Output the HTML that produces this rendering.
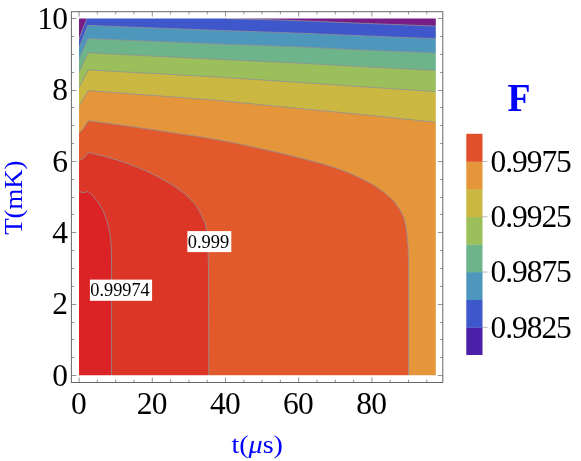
<!DOCTYPE html>
<html><head><meta charset="utf-8"><title>F</title>
<style>
html,body{margin:0;padding:0;background:#fff;}
body{width:581px;height:461px;overflow:hidden;position:relative;font-family:"Liberation Serif",serif;}
svg{position:absolute;left:0;top:0;will-change:transform;}
text{font-family:"Liberation Serif",serif;}
</style></head><body>
<svg width="581" height="461" viewBox="0 0 581 461">
<defs><clipPath id="cp"><rect x="78" y="18" width="359" height="358"/></clipPath></defs>
<g clip-path="url(#cp)">
<rect x="78.0" y="17.6" width="358.8" height="358.6" fill="#781c86"/>
<path fill="#3e58cb" d="M76.0,46.8 L79.0,39.0 L86.8,18.6 L88.1,15.6 L207.0,15.6 L227.0,18.6 L255.0,19.3 L282.6,20.1 L320.0,21.5 L360.0,23.2 L400.0,24.7 L435.8,26.1 L438.8,26.2 L438.8,378.2 L76.0,378.2 Z"/>
<path fill="#4d97bc" d="M76.0,55.7 L79.0,48.0 L87.8,25.4 L215.0,30.3 L300.0,33.2 L360.0,35.7 L435.7,38.7 L438.7,38.8 L438.8,378.2 L76.0,378.2 Z"/>
<path fill="#6db48a" d="M76.0,66.1 L79.0,59.2 L88.0,38.6 L215.0,43.9 L300.0,46.9 L360.0,49.9 L435.7,52.9 L438.7,53.0 L438.8,378.2 L76.0,378.2 Z"/>
<path fill="#9bbf5b" d="M76.0,78.9 L79.0,72.4 L88.1,52.8 L215.0,59.2 L300.0,63.2 L360.0,66.6 L435.7,70.4 L438.7,70.6 L438.8,378.2 L76.0,378.2 Z"/>
<path fill="#cbb843" d="M76.0,93.1 L79.0,87.4 L88.2,69.9 L215.0,76.9 L300.0,82.4 L360.0,86.6 L435.7,91.6 L438.7,91.8 L438.8,378.2 L76.0,378.2 Z"/>
<path fill="#e6963a" d="M76.0,111.3 L79.0,106.2 L88.2,90.6 L215.0,100.1 L300.0,108.6 L360.0,114.3 L435.7,122.3 L438.7,122.6 L438.8,378.2 L76.0,378.2 Z"/>
<path fill="#e25a2c" d="M76.0,136.4 L79.0,133.3 L82.9,129.3 L88.3,120.8 L104.0,122.8 L128.0,126.0 L152.0,129.6 L176.0,133.2 L200.0,136.8 L210.0,138.4 L234.1,142.8 L258.2,148.1 L282.3,153.6 L306.4,159.6 L330.0,166.1 L340.8,169.8 L351.7,174.1 L362.5,179.1 L373.4,184.9 L384.2,192.5 L392.9,200.1 L399.4,208.8 L403.8,217.5 L405.9,226.2 L407.2,235.9 L408.1,246.8 L408.5,260.0 L408.5,375.2 L408.5,378.2 L76.0,378.2 Z"/>
<path fill="#dc3626" d="M76.0,163.0 L79.0,161.0 L84.6,157.2 L88.4,152.5 L106.0,156.7 L119.1,160.6 L132.1,165.3 L145.1,170.5 L158.1,176.8 L171.1,184.1 L184.2,193.2 L194.6,203.6 L201.1,214.0 L205.0,223.1 L207.1,232.2 L208.1,254.4 L208.5,265.0 L208.7,375.2 L208.7,378.2 L76.0,378.2 Z"/>
<path fill="#db2224" d="M76.0,190.9 L79.0,191.6 L83.9,192.7 L87.8,191.4 L93.0,195.8 L98.2,202.3 L103.4,211.4 L107.3,221.8 L109.9,233.5 L111.3,246.6 L111.6,265.0 L111.6,375.2 L111.6,378.2 L76.0,378.2 Z"/>
<path stroke="#8f9097" stroke-width="0.8" fill="none" d="M76.0,46.8 L79.0,39.0 L86.8,18.6"/>
<path stroke="#8f9097" stroke-width="0.8" fill="none" d="M227.0,18.6 L255.0,19.3 L282.6,20.1 L320.0,21.5 L360.0,23.2 L400.0,24.7 L435.8,26.1 L438.8,26.2"/>
<path stroke="#8f9097" stroke-width="0.8" fill="none" d="M76.0,55.7 L79.0,48.0 L87.8,25.4 L215.0,30.3 L300.0,33.2 L360.0,35.7 L435.7,38.7 L438.7,38.8"/>
<path stroke="#8f9097" stroke-width="0.8" fill="none" d="M76.0,66.1 L79.0,59.2 L88.0,38.6 L215.0,43.9 L300.0,46.9 L360.0,49.9 L435.7,52.9 L438.7,53.0"/>
<path stroke="#8f9097" stroke-width="0.8" fill="none" d="M76.0,78.9 L79.0,72.4 L88.1,52.8 L215.0,59.2 L300.0,63.2 L360.0,66.6 L435.7,70.4 L438.7,70.6"/>
<path stroke="#8f9097" stroke-width="0.8" fill="none" d="M76.0,93.1 L79.0,87.4 L88.2,69.9 L215.0,76.9 L300.0,82.4 L360.0,86.6 L435.7,91.6 L438.7,91.8"/>
<path stroke="#8f9097" stroke-width="0.8" fill="none" d="M76.0,111.3 L79.0,106.2 L88.2,90.6 L215.0,100.1 L300.0,108.6 L360.0,114.3 L435.7,122.3 L438.7,122.6"/>
<path stroke="#8f9097" stroke-width="0.8" fill="none" d="M76.0,136.4 L79.0,133.3 L82.9,129.3 L88.3,120.8 L104.0,122.8 L128.0,126.0 L152.0,129.6 L176.0,133.2 L200.0,136.8 L210.0,138.4 L234.1,142.8 L258.2,148.1 L282.3,153.6 L306.4,159.6 L330.0,166.1 L340.8,169.8 L351.7,174.1 L362.5,179.1 L373.4,184.9 L384.2,192.5 L392.9,200.1 L399.4,208.8 L403.8,217.5 L405.9,226.2 L407.2,235.9 L408.1,246.8 L408.5,260.0 L408.5,375.2 L408.5,378.2"/>
<path stroke="#8f9097" stroke-width="0.8" fill="none" d="M76.0,163.0 L79.0,161.0 L84.6,157.2 L88.4,152.5 L106.0,156.7 L119.1,160.6 L132.1,165.3 L145.1,170.5 L158.1,176.8 L171.1,184.1 L184.2,193.2 L194.6,203.6 L201.1,214.0 L205.0,223.1 L207.1,232.2 L208.1,254.4 L208.5,265.0 L208.7,375.2 L208.7,378.2"/>
<path stroke="#8f9097" stroke-width="0.8" fill="none" d="M76.0,190.9 L79.0,191.6 L83.9,192.7 L87.8,191.4 L93.0,195.8 L98.2,202.3 L103.4,211.4 L107.3,221.8 L109.9,233.5 L111.3,246.6 L111.6,265.0 L111.6,375.2 L111.6,378.2"/>
</g>
<path fill="#fff" d="M77,17 H438 V18.60 H77 Z M77,375.20 H438 V377 H77 Z M77,17 H79.00 V377 H77 Z M435.80,17 H438 V377 H435.80 Z"/>
<rect x="71.4" y="11.7" width="371.4" height="370.8" fill="none" stroke="#666" stroke-width="1.0"/>
<path d="M79.10,382.4 v-4.9 M79.10,11.7 v4.9 M97.40,382.4 v-2.7 M97.40,11.7 v2.7 M115.70,382.4 v-2.7 M115.70,11.7 v2.7 M134.00,382.4 v-2.7 M134.00,11.7 v2.7 M152.30,382.4 v-4.9 M152.30,11.7 v4.9 M170.60,382.4 v-2.7 M170.60,11.7 v2.7 M188.90,382.4 v-2.7 M188.90,11.7 v2.7 M207.20,382.4 v-2.7 M207.20,11.7 v2.7 M225.50,382.4 v-4.9 M225.50,11.7 v4.9 M243.80,382.4 v-2.7 M243.80,11.7 v2.7 M262.10,382.4 v-2.7 M262.10,11.7 v2.7 M280.40,382.4 v-2.7 M280.40,11.7 v2.7 M298.70,382.4 v-4.9 M298.70,11.7 v4.9 M317.00,382.4 v-2.7 M317.00,11.7 v2.7 M335.30,382.4 v-2.7 M335.30,11.7 v2.7 M353.60,382.4 v-2.7 M353.60,11.7 v2.7 M371.90,382.4 v-4.9 M371.90,11.7 v4.9 M390.20,382.4 v-2.7 M390.20,11.7 v2.7 M408.50,382.4 v-2.7 M408.50,11.7 v2.7 M426.80,382.4 v-2.7 M426.80,11.7 v2.7 M71.4,375.50 h5.0 M442.8,375.50 h-5.0 M71.4,357.50 h2.8 M442.8,357.50 h-2.8 M71.4,339.50 h2.8 M442.8,339.50 h-2.8 M71.4,322.50 h2.8 M442.8,322.50 h-2.8 M71.4,304.50 h5.0 M442.8,304.50 h-5.0 M71.4,286.50 h2.8 M442.8,286.50 h-2.8 M71.4,268.50 h2.8 M442.8,268.50 h-2.8 M71.4,250.50 h2.8 M442.8,250.50 h-2.8 M71.4,232.50 h5.0 M442.8,232.50 h-5.0 M71.4,214.50 h2.8 M442.8,214.50 h-2.8 M71.4,197.50 h2.8 M442.8,197.50 h-2.8 M71.4,179.50 h2.8 M442.8,179.50 h-2.8 M71.4,161.50 h5.0 M442.8,161.50 h-5.0 M71.4,143.50 h2.8 M442.8,143.50 h-2.8 M71.4,125.50 h2.8 M442.8,125.50 h-2.8 M71.4,107.50 h2.8 M442.8,107.50 h-2.8 M71.4,90.50 h5.0 M442.8,90.50 h-5.0 M71.4,72.50 h2.8 M442.8,72.50 h-2.8 M71.4,54.50 h2.8 M442.8,54.50 h-2.8 M71.4,36.50 h2.8 M442.8,36.50 h-2.8 M71.4,18.50 h5.0 M442.8,18.50 h-5.0" stroke="#666" stroke-width="0.7" fill="none"/>
<text transform="translate(78.50,413.60) scale(1.030,1)" font-size="30.60" text-anchor="middle" letter-spacing="-0.75">0</text>
<text transform="translate(151.70,413.60) scale(1.030,1)" font-size="30.60" text-anchor="middle" letter-spacing="-0.75">20</text>
<text transform="translate(224.90,413.60) scale(1.030,1)" font-size="30.60" text-anchor="middle" letter-spacing="-0.75">40</text>
<text transform="translate(298.10,413.60) scale(1.030,1)" font-size="30.60" text-anchor="middle" letter-spacing="-0.75">60</text>
<text transform="translate(371.30,413.60) scale(1.030,1)" font-size="30.60" text-anchor="middle" letter-spacing="-0.75">80</text>
<text transform="translate(67.30,385.60) scale(1.030,1)" font-size="30.60" text-anchor="end" letter-spacing="-0.75">0</text>
<text transform="translate(67.30,314.28) scale(1.030,1)" font-size="30.60" text-anchor="end" letter-spacing="-0.75">2</text>
<text transform="translate(67.30,242.96) scale(1.030,1)" font-size="30.60" text-anchor="end" letter-spacing="-0.75">4</text>
<text transform="translate(67.30,171.64) scale(1.030,1)" font-size="30.60" text-anchor="end" letter-spacing="-0.75">6</text>
<text transform="translate(67.30,100.32) scale(1.030,1)" font-size="30.60" text-anchor="end" letter-spacing="-0.75">8</text>
<text transform="translate(67.30,29.00) scale(1.030,1)" font-size="30.60" text-anchor="end" letter-spacing="-0.75">10</text>
<text transform="translate(257.20,452.70) scale(1.090,1)" font-size="25.80" text-anchor="middle" fill="#0000ff">t(<tspan font-style="italic">μ</tspan>s)</text>
<text transform="translate(21.8,197.7) rotate(-90) scale(1.03,1)" font-size="26" fill="#0000ff" text-anchor="middle">T(mK)</text>
<rect x="187.4" y="231.1" width="43.9" height="21.0" fill="#fff"/>
<text transform="translate(208.45,248.20) scale(0.975,1)" font-size="18.90" text-anchor="middle" >0.999</text>
<rect x="89.9" y="279.6" width="62.2" height="21.2" fill="#fff"/>
<text transform="translate(120.00,296.30) scale(0.985,1)" font-size="18.60" text-anchor="middle" >0.99974</text>
<rect x="466.3" y="327.35" width="16.2" height="27.65" fill="#4c1fa9"/>
<rect x="466.3" y="299.70" width="16.2" height="27.95" fill="#3e58cb"/>
<rect x="466.3" y="272.05" width="16.2" height="27.95" fill="#4d97bc"/>
<rect x="466.3" y="244.40" width="16.2" height="27.95" fill="#6db48a"/>
<rect x="466.3" y="216.75" width="16.2" height="27.95" fill="#9bbf5b"/>
<rect x="466.3" y="189.10" width="16.2" height="27.95" fill="#cbb843"/>
<rect x="466.3" y="161.45" width="16.2" height="27.95" fill="#e6963a"/>
<rect x="466.3" y="133.80" width="16.2" height="27.95" fill="#e0502a"/>
<path d="M482.5,327.35 h5" stroke="#999" stroke-width="0.7"/>
<text transform="translate(490.60,337.65) scale(1.030,1)" font-size="30.60" text-anchor="start" letter-spacing="-1.05">0.9825</text>
<path d="M482.5,272.05 h5" stroke="#999" stroke-width="0.7"/>
<text transform="translate(490.60,282.35) scale(1.030,1)" font-size="30.60" text-anchor="start" letter-spacing="-1.05">0.9875</text>
<path d="M482.5,216.75 h5" stroke="#999" stroke-width="0.7"/>
<text transform="translate(490.60,227.05) scale(1.030,1)" font-size="30.60" text-anchor="start" letter-spacing="-1.05">0.9925</text>
<path d="M482.5,161.45 h5" stroke="#999" stroke-width="0.7"/>
<text transform="translate(490.60,171.75) scale(1.030,1)" font-size="30.60" text-anchor="start" letter-spacing="-1.05">0.9975</text>
<text transform="translate(518.90,111.00) scale(0.960,1)" font-size="39.30" text-anchor="middle" font-weight="bold" fill="#0000ff">F</text>
</svg>
</body></html>
